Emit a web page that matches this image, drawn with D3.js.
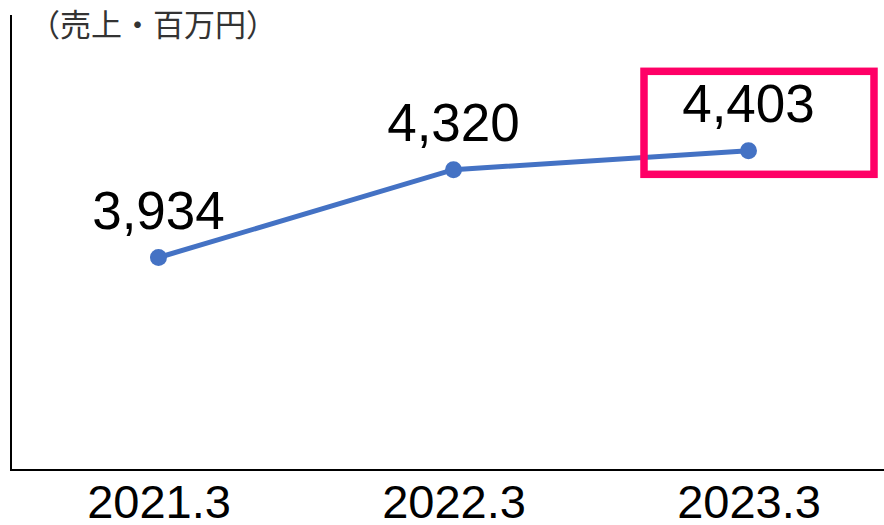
<!DOCTYPE html>
<html><head><meta charset="utf-8">
<script src="https://cdn.jsdelivr.net/npm/d3@7"></script>
<style>html,body{margin:0;padding:0;background:#fff;overflow:hidden}</style>
</head><body>
<svg id="c" width="884" height="525"></svg>
<script>
const categories = ["2021.3", "2022.3", "2023.3"];
const sales = [3934, 4320, 4403];
const labels = ["3,934", "4,320", "4,403"];
const unitLabel = "（売上・百万円）";
const highlightIndex = 2;

const svg = d3.select("#c");
const x = d3.scalePoint().domain(categories).range([11, 896]).padding(0.5);
const y = d3.scaleLinear().domain([3000, 5000]).range([470, 15]);
const font = "Liberation Sans, Arial, sans-serif";

// axes lines
svg.append("line").attr("x1", 11).attr("x2", 11).attr("y1", 15).attr("y2", 470)
  .attr("stroke", "#000").attr("stroke-width", 2);
svg.append("line").attr("x1", 10).attr("x2", 884).attr("y1", 470).attr("y2", 470)
  .attr("stroke", "#000").attr("stroke-width", 2);

// x labels
const xAxis = d3.axisBottom(x).tickSize(0).tickPadding(0);
const gx = svg.append("g").attr("transform", "translate(0,470)").call(xAxis);
gx.select(".domain").remove();
gx.selectAll("text").attr("font-family", font).attr("font-size", 47).attr("fill", "#000")
  .attr("dy", null).attr("y", 48);

// unit label
svg.append("text").attr("x", 29).attr("y", 36).attr("font-family", "Noto Sans CJK JP, sans-serif")
  .attr("font-size", 31).attr("fill", "#333").text(unitLabel);

// line
const data = categories.map((c, i) => ({c, v: sales[i], l: labels[i]}));
svg.append("path").datum(data)
  .attr("d", d3.line().x(d => x(d.c)).y(d => y(d.v)))
  .attr("fill", "none").attr("stroke", "#4472C4").attr("stroke-width", 5);
svg.selectAll("circle.pt").data(data).join("circle")
  .attr("cx", d => x(d.c)).attr("cy", d => y(d.v)).attr("r", 8.5).attr("fill", "#4472C4");
svg.selectAll("text.lbl").data(data).join("text").attr("class", "lbl")
  .attr("x", d => x(d.c)).attr("y", d => y(d.v) - 29)
  .attr("text-anchor", "middle").attr("font-family", font).attr("font-size", 53)
  .attr("fill", "#000").text(d => d.l);

// highlight box
const hx = x(categories[highlightIndex]), hy = y(sales[highlightIndex]);
svg.append("rect").attr("x", hx - 104.5).attr("y", hy - 79.5).attr("width", 230).attr("height", 103)
  .attr("fill", "none").attr("stroke", "#FF0066").attr("stroke-width", 7.5);
</script>
</body></html>
